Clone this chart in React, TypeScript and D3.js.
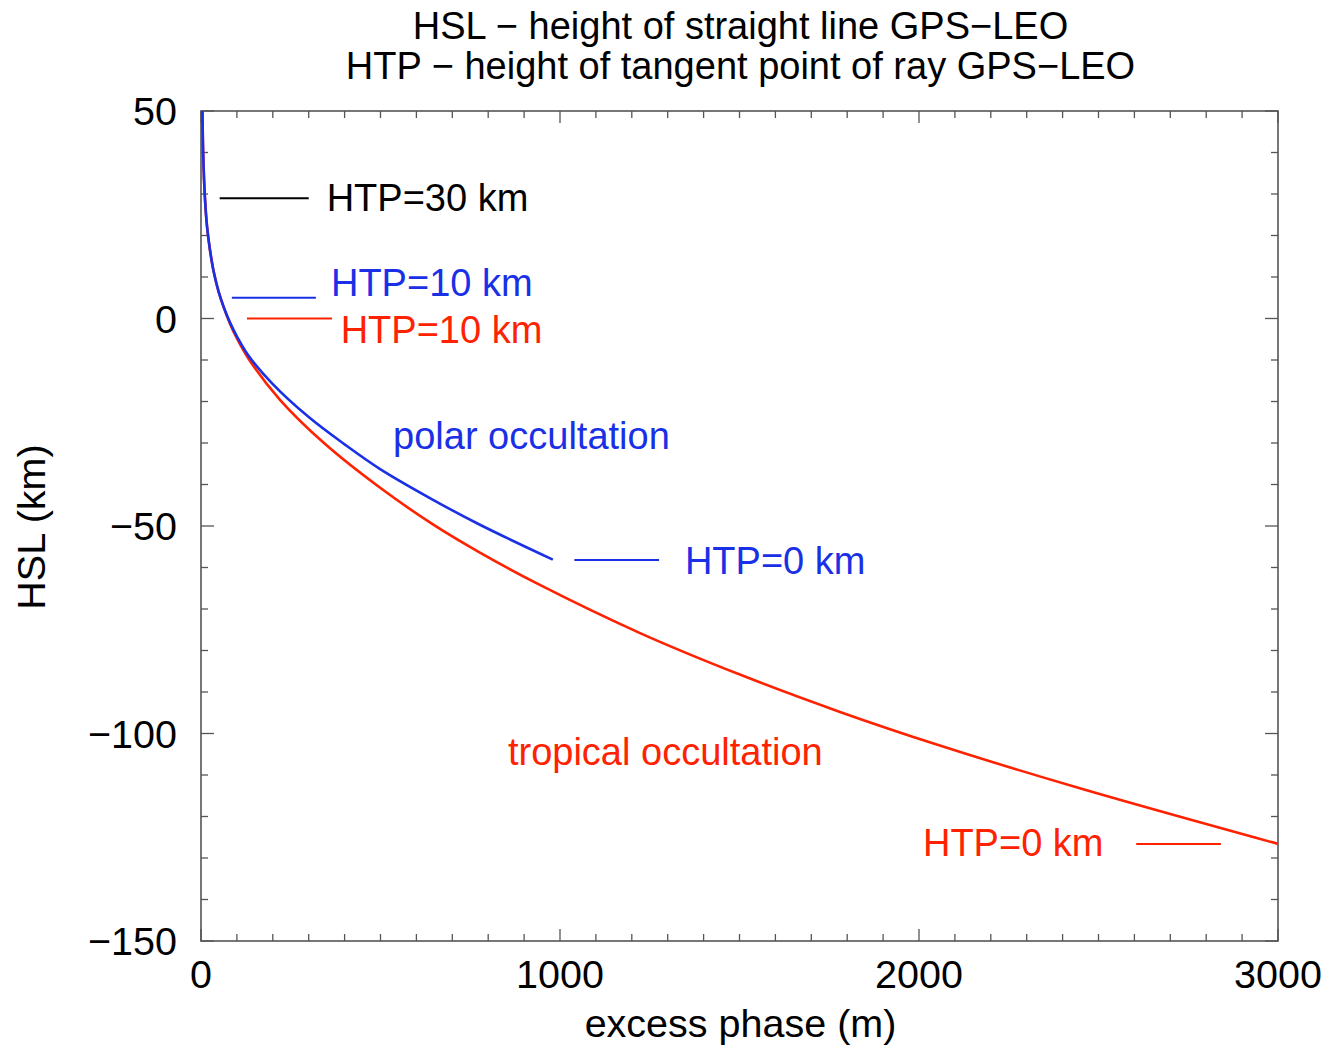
import React from "react";
import * as d3 from "d3";

const titleLines = [
  "HSL \u2212 height of straight line GPS\u2212LEO",
  "HTP \u2212 height of tangent point of ray GPS\u2212LEO",
];
const xLabel = "excess phase (m)";
const yLabel = "HSL (km)";

const xDomain = [0, 3000];
const yDomain = [-150, 50];
const xMajorTicks = [0, 1000, 2000, 3000];
const yMajorTicks = [50, 0, -50, -100, -150];

// tropical occultation (red)
const tropicalX = [4, 6, 11, 17, 25, 36, 49, 64, 81, 100, 131, 220, 345, 499, 646, 777, 944, 1223, 1501, 1780, 2058, 2448, 3000];
const tropicalY = [50, 40, 29, 22, 16.5, 11, 6.5, 2.5, -1.3, -4.8, -9.5, -19.6, -30.2, -40.8, -49.6, -56.4, -64.2, -75.8, -85.8, -94.8, -102.9, -113.2, -126.6];

// polar occultation (blue)
const polarX = [4, 6, 11, 17, 25, 36, 49, 64, 81, 100, 131, 200, 300, 401, 499, 640, 777, 980];
const polarY = [50, 40, 29, 22, 16.5, 11, 6.5, 2.6, -1.0, -4.3, -8.8, -15.8, -23.75, -30.4, -36.3, -43.4, -49.7, -58.1];

const RED = "#ff2200";
const BLUE = "#1a30e6";

// annotation markers: [x0, x1, y] in data units, label anchor in data units
const annotations = [
  { x0: 52, x1: 300, y: 29, color: "#000", label: "HTP=30 km", lx: 350, ly: 26 },
  { x0: 86, x1: 320, y: 5, color: BLUE, label: "HTP=10 km", lx: 362, ly: 5.4 },
  { x0: 128, x1: 365, y: 0, color: RED, label: "HTP=10 km", lx: 389, ly: -5.8 },
  { x0: 1040, x1: 1276, y: -58.2, color: BLUE, label: "HTP=0 km", lx: 1348, ly: -61.5 },
  { x0: 2605, x1: 2841, y: -126.6, color: RED, label: "HTP=0 km", lx: 2011, ly: -129.5 },
];
const regionLabels = [
  { text: "polar occultation", x: 535, y: -31.5, color: BLUE },
  { text: "tropical occultation", x: 855, y: -107.5, color: RED },
];

const W = 1326;
const H = 1047;
const left = 201;
const right = 1278;
const top = 111;
const bottom = 941;
const FONT = "'Liberation Sans', Arial, Helvetica, sans-serif";
const FS = 38;
const FS_AX = 39.5;

export default function App() {
  const x = d3.scaleLinear().domain(xDomain).range([left, right]);
  const y = d3.scaleLinear().domain(yDomain).range([bottom, top]);

  const line = d3
    .line<[number, number]>()
    .x((d) => x(d[0]))
    .y((d) => y(d[1]))
    .curve(d3.curveCatmullRom.alpha(0.5));

  const red = tropicalX.map((v, i) => [v, tropicalY[i]] as [number, number]);
  const blue = polarX.map((v, i) => [v, polarY[i]] as [number, number]);

  const xMinor = d3.range(0, 3001, 100);
  const yMinor = d3.range(-150, 51, 10);
  const fmt = d3.format("");
  const axisColor = "#555";

  return (
    <svg
      width={W}
      height={H}
      style={{ position: "absolute", left: 0, top: 0, background: "#fff" }}
      fontFamily={FONT}
    >
      <rect x={0} y={0} width={W} height={H} fill="#fff" />
      {titleLines.map((t, i) => (
        <text key={i} x={(left + right) / 2 + 1} y={39 + i * 40} textAnchor="middle" fontSize={FS} fill="#000">
          {t}
        </text>
      ))}
      <defs>
        <clipPath id="plotclip">
          <rect x={left} y={top} width={right - left} height={bottom - top} />
        </clipPath>
      </defs>
      {/* ticks */}
      <g stroke={axisColor} strokeWidth={1.3}>
        {xMinor.map((v) => {
          const len = v % 1000 === 0 ? 12 : 7;
          return (
            <g key={"xt" + v}>
              <line x1={x(v)} x2={x(v)} y1={bottom} y2={bottom - len} />
              <line x1={x(v)} x2={x(v)} y1={top} y2={top + len} />
            </g>
          );
        })}
        {yMinor.map((v) => {
          const len = v % 50 === 0 ? 13 : 7;
          return (
            <g key={"yt" + v}>
              <line x1={left} x2={left + len} y1={y(v)} y2={y(v)} />
              <line x1={right} x2={right - len} y1={y(v)} y2={y(v)} />
            </g>
          );
        })}
      </g>
      <rect x={left} y={top} width={right - left} height={bottom - top} fill="none" stroke={axisColor} strokeWidth={1.6} />
      {/* tick labels */}
      {xMajorTicks.map((v) => (
        <text key={"xl" + v} x={x(v)} y={988} textAnchor="middle" fontSize={FS_AX} fill="#000">
          {fmt(v)}
        </text>
      ))}
      {yMajorTicks.map((v) => (
        <text key={"yl" + v} x={177} y={y(v) + 14} textAnchor="end" fontSize={FS_AX} fill="#000">
          {fmt(v)}
        </text>
      ))}
      <text x={(left + right) / 2 + 1} y={1037} textAnchor="middle" fontSize={FS_AX} fill="#000">
        {xLabel}
      </text>
      <text
        transform={`translate(45, ${(top + bottom) / 2 + 1}) rotate(-90)`}
        textAnchor="middle"
        fontSize={FS_AX}
        fill="#000"
      >
        {yLabel}
      </text>
      {/* curves */}
      <g clipPath="url(#plotclip)" fill="none" strokeWidth={2.6}>
        <path d={line(red) || ""} stroke={RED} />
        <path d={line(blue) || ""} stroke={BLUE} />
      </g>
      {/* annotations */}
      {annotations.map((a, i) => (
        <g key={"an" + i}>
          <line x1={x(a.x0)} x2={x(a.x1)} y1={y(a.y)} y2={y(a.y)} stroke={a.color} strokeWidth={2} />
          <text x={x(a.lx)} y={y(a.ly)} fontSize={FS} fill={a.color}>
            {a.label}
          </text>
        </g>
      ))}
      {regionLabels.map((r, i) => (
        <text key={"rl" + i} x={x(r.x)} y={y(r.y)} fontSize={FS} fill={r.color}>
          {r.text}
        </text>
      ))}
    </svg>
  );
}
